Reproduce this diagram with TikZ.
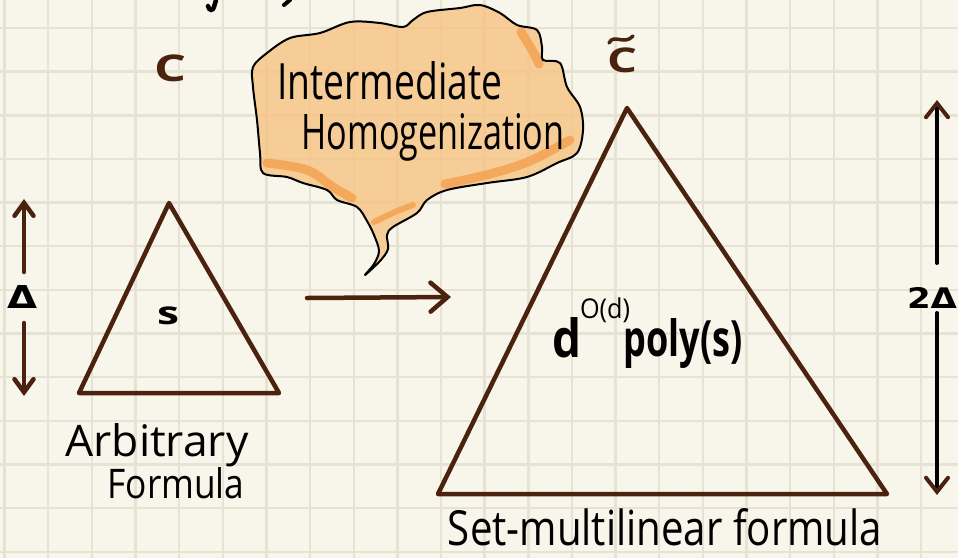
\documentclass[tikz,border=0pt]{standalone}
\usepackage{fontspec}
\setmainfont{Open Sans}
\newfontfamily\dejavu{DejaVu Sans}
\usetikzlibrary{arrows.meta}
\definecolor{bg}{HTML}{F8F6EA}
\definecolor{gridc}{HTML}{E6E3D5}
\definecolor{brn}{HTML}{4A220D}
\definecolor{cloudfill}{HTML}{F6C385}
\definecolor{streak}{HTML}{F3A04C}
\newcommand{\fitbox}[3]{\resizebox*{#1}{#2}{#3}}
\newcommand{\fitabove}[3]{\resizebox{#1}{#2}{#3}}
\tikzset{
  gridline/.style={gridc, line width=2.4pt},
  tri/.style={brn, line width=4.5pt, line join=round, line cap=round},
  brnarrow/.style={brn, line width=4.5pt, line cap=round, -{Straight Barb[length=14pt,width=22pt,line cap=round]}},
  blkarrow/.style={black, line width=4pt, line cap=round, -{Straight Barb[length=14pt,width=22pt,line cap=round,color=brn]}},
  hand/.style={black, inner sep=0pt, outer sep=0pt},
  brnlabel/.style={brn, inner sep=0pt, font=\bfseries},
  streakline/.style={streak, line width=9pt, line cap=round, opacity=0.8},
}
\begin{document}
\begin{tikzpicture}[x=1pt,y=-1pt]
\useasboundingbox (0,0) rectangle (958,558);
\fill[bg] (0,0) rectangle (958,558);
% grid
\foreach \i in {0,...,21} \draw[gridline] ({4.5+43.65*\i},0) -- ({4.5+43.65*\i},558);
\foreach \j in {0,...,12} \draw[gridline] (0,{28+43.65*\j}) -- (958,{28+43.65*\j});
% fragments of text cut off at the top
\draw[black, line width=4.5pt, line cap=round] (216,0) -- (214,7) .. controls (213,11) and (209,11) .. (208,6);
\draw[black, line width=4pt, line cap=round] (290,0) -- (284,5);
% cloud
\fill[cloudfill, fill opacity=0.82] plot[smooth cycle, tension=0.55] coordinates {
 (253,67) (267,53) (290,38) (320,33) (350,22) (380,23) (403,27) (413,20) (427,12) (460,8) (480,5) (500,13) (517,25) (537,30) (542,47) (543,60) (560,63) (567,87) (580,107) (583,130) (577,153) (557,163) (527,177) (487,183) (447,190) (427,200) (417,213) (393,227) (387,235) (388,249) (380,261) (365,275) (374,264) (379,251) (374,235) (367,221) (357,207) (337,200) (327,190) (303,183) (287,177) (263,173) (260,153) (257,120) (253,87)};
\draw[streakline] plot[smooth, tension=0.6] coordinates {(267,163) (307,170) (333,187) (352,198)};
\draw[streakline] plot[smooth, tension=0.6] coordinates {(445,184) (490,174) (530,161) (570,140)};
\draw[streakline] plot[smooth, tension=0.6] coordinates {(521,32) (532,50) (539,64)};
\draw[streakline, line width=6pt] plot[smooth, tension=0.6] coordinates {(374,222) (395,212) (413,205)};
\draw[black, line width=2pt, line join=round] plot[smooth cycle, tension=0.55] coordinates {
 (253,67) (267,53) (290,38) (320,33) (350,22) (380,23) (403,27) (413,20) (427,12) (460,8) (480,5) (500,13) (517,25) (537,30) (542,47) (543,60) (560,63) (567,87) (580,107) (583,130) (577,153) (557,163) (527,177) (487,183) (447,190) (427,200) (417,213) (393,227) (387,235) (388,249) (380,261) (365,275) (374,264) (379,251) (374,235) (367,221) (357,207) (337,200) (327,190) (303,183) (287,177) (263,173) (260,153) (257,120) (253,87)};
\node[hand, anchor=base] (inter) at (390,99) {\fitabove{225pt}{38pt}{Intermediate}};
\node[hand, anchor=base] (homog) at (433,149) {\fitabove{263pt}{36pt}{Homogenization}};
% small triangle
\coordinate (sa) at (169,203);
\coordinate (sl) at (79,393);
\coordinate (sr) at (279,393);
\draw[tri] (sa) -- (sl) -- (sr) -- cycle;
\node[hand, font=\bfseries] (s) at (168,316) {\fitbox{22pt}{18pt}{s}};
\node[brnlabel] (c) at (171,68) {\fitbox{32pt}{27pt}{C}};
% left delta arrow
\node[hand] (dl) at (23,297) {\dejavu\bfseries\fitbox{30pt}{23pt}{Δ}};
\coordinate (dT1) at (24,272);
\coordinate (dT2) at (24,199);
\coordinate (dB1) at (24,323);
\coordinate (dB2) at (24,396);
\draw[brnarrow, -{Straight Barb[length=13pt,width=19pt,line cap=round]}] (dT1) -- (dT2);
\draw[brnarrow, -{Straight Barb[length=13pt,width=19pt,line cap=round]}] (dB1) -- (dB2);
\node[hand, anchor=base] (arb) at (157,456) {\fitabove{183pt}{33pt}{Arbitrary}};
\node[hand, anchor=base] (form) at (176,498) {\fitabove{137pt}{31pt}{Formula}};
% middle arrow
\coordinate (ma) at (307,298);
\coordinate (mb) at (451,297);
\draw[brnarrow, -{Straight Barb[length=17pt,width=29pt,line cap=round]}] (ma) -- (mb);
% big triangle
\coordinate (ba) at (627,108);
\coordinate (bl) at (438,494);
\coordinate (br) at (887,494);
\draw[tri] (ba) -- (bl) -- (br) -- cycle;
\node[brnlabel] (ct) at (622,60) {\fitbox{30pt}{25pt}{C}};
\draw[brn, line width=3.5pt, line cap=round] (609,43) .. controls (614,33) and (624,46) .. (633,36);
\node[hand, font=\bfseries, anchor=base] (dd) at (567,357) {\fitabove{29pt}{40pt}{d}};
\node[hand] (od) at (605,310) {\fitbox{50pt}{25pt}{O(d)}};
\node[hand, font=\bfseries, anchor=base] (poly) at (683,356) {\fitabove{119pt}{38pt}{poly(s)}};
\node[hand, anchor=base] (setml) at (665,545) {\fitabove{434pt}{37pt}{Set-multilinear formula}};
% right 2Delta arrow
\node[hand, anchor=west] (d2) at (907,298) {\dejavu\bfseries\fitbox{50pt}{21pt}{2Δ}};
\coordinate (rT1) at (937,263);
\coordinate (rT2) at (937,100);
\coordinate (rB1) at (937,313);
\coordinate (rB2) at (937,495);
\draw[blkarrow] (rT1) -- (rT2);
\draw[blkarrow] (rB1) -- (rB2);
\end{tikzpicture}
\end{document}
